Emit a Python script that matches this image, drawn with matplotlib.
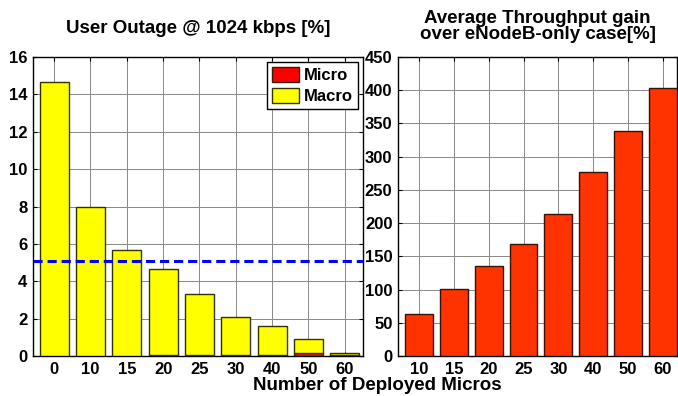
import matplotlib
matplotlib.use("Agg")
import matplotlib.pyplot as plt
import numpy as np

plt.rcParams['font.family'] = ['Liberation Sans', 'DejaVu Sans']
plt.rcParams['font.weight'] = 'bold'

# outage data (left panel)
outage_labels = ['0', '10', '15', '20', '25', '30', '40', '50', '60']
outage_total = [14.64, 7.95, 5.68, 4.64, 3.34, 2.09, 1.61, 0.91, 0.15]
outage_micro = [0.0, 0.02, 0.02, 0.03, 0.08, 0.08, 0.08, 0.15, 0.05]
outage_target = 5.08

# throughput gain data (right panel)
gain_labels = ['10', '15', '20', '25', '30', '40', '50', '60']
gain_values = [63.7, 100.4, 135, 168, 214, 276.6, 339, 404]

fig = plt.figure(figsize=(6.78, 3.96), dpi=100)
ax1 = fig.add_axes([0.0487, 0.101, 0.4867, 0.755])
ax2 = fig.add_axes([0.587, 0.101, 0.4115, 0.755])


def style_axes(ax):
    ax.grid(True, color='#888888', linewidth=0.7, linestyle='-')
    ax.set_axisbelow(True)
    ax.tick_params(direction='in', top=True, right=True, labelsize=12,
                   length=3, width=0.8, pad=4)
    for s in ax.spines.values():
        s.set_linewidth(1.0)
    for lab in ax.get_xticklabels() + ax.get_yticklabels():
        lab.set_fontweight('bold')


# left panel: stacked micro/macro outage
x1 = np.arange(len(outage_labels))
macro = np.array(outage_total) - np.array(outage_micro)
ax1.bar(x1, outage_micro, width=0.8, color='#ff0000', edgecolor='#3a1a00',
        linewidth=1.0, label='Micro', zorder=3)
ax1.bar(x1, macro, bottom=outage_micro, width=0.8, color='#ffff00',
        edgecolor='#333300', linewidth=1.0, label='Macro', zorder=3)
ax1.axhline(outage_target, color='#0000ff', linestyle='--', linewidth=2.2,
            dashes=(3, 1.6), zorder=4)
ax1.set_xlim(-0.58, 8.5)
ax1.set_ylim(0, 16)
ax1.set_xticks(x1)
ax1.set_xticklabels(outage_labels)
ax1.set_yticks(np.arange(0, 17, 2))
style_axes(ax1)
ax1.set_title('User Outage @ 1024 kbps [%]', fontsize=13.5, fontweight='bold', pad=17)
leg = ax1.legend(loc='upper right', prop={'weight': 'bold', 'size': 12},
                 fancybox=False, edgecolor='black', framealpha=1,
                 handlelength=1.6, handleheight=1.0, handletextpad=0.3,
                 borderpad=0.3, labelspacing=0.3, borderaxespad=0.3)
leg.get_frame().set_linewidth(1.0)

# right panel: throughput gain
x2 = np.arange(len(gain_labels))
ax2.bar(x2, gain_values, width=0.8, color='#ff3300', edgecolor='#3a1000',
        linewidth=1.0, zorder=3)
ax2.set_xlim(-0.6, 7.4)
ax2.set_ylim(0, 450)
ax2.set_xticks(x2)
ax2.set_xticklabels(gain_labels)
ax2.set_yticks(np.arange(0, 451, 50))
style_axes(ax2)
ax2.set_title('Average Throughput gain\nover eNodeB-only case[%]', fontsize=13.5,
              fontweight='bold', pad=13, linespacing=0.95)

fig.text(0.556, 0.026, 'Number of Deployed Micros', ha='center', va='center',
         fontsize=13.5, fontweight='bold')

fig.savefig('out.png', dpi=100)
